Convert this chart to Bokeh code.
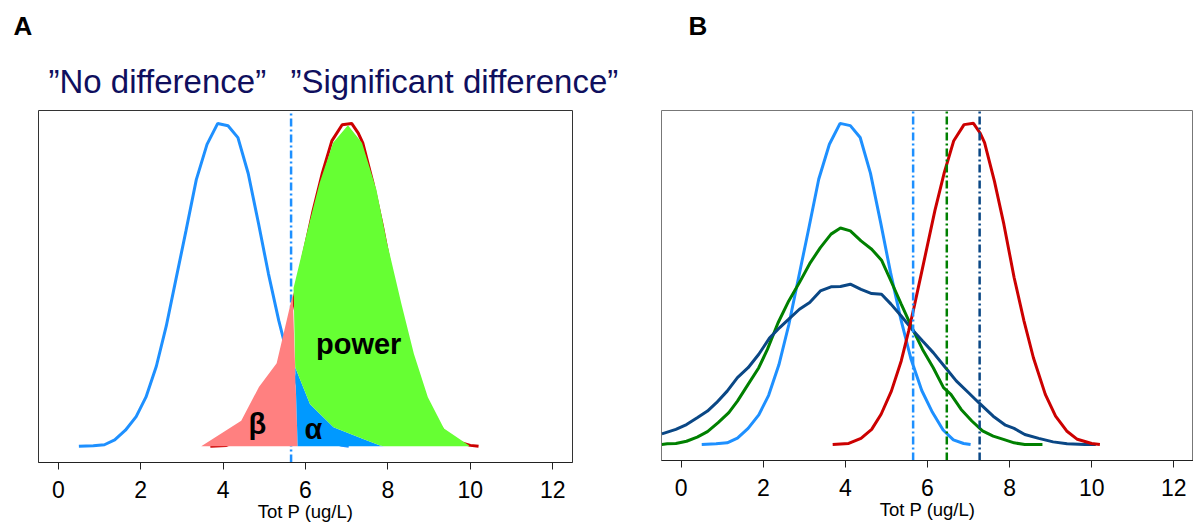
from bokeh.plotting import figure
from bokeh.layouts import row, column
from bokeh.models import FixedTicker, Range1d
from bokeh.core.properties import value
from bokeh.embed import file_html
from bokeh.resources import INLINE

FONT = "Liberation Sans"

# ---------------- data ----------------
ticks = [0, 2, 4, 6, 8, 10, 12]
x_label = "Tot P (ug/L)"
panel_labels = ["A", "B"]
head_texts = ["\u201dNo difference\u201d", "\u201dSignificant difference\u201d"]
area_labels = ["power", "\u03b2", "\u03b1"]

# null distribution (light blue)
blue_x = [0.5, 0.85, 1.12, 1.37, 1.63, 1.89, 2.13, 2.38, 2.62, 2.86, 3.1, 3.35, 3.61, 3.87,
          4.12, 4.36, 4.61, 4.86, 5.1, 5.35, 5.6, 5.86, 6.12, 6.38, 6.63, 6.88, 7.05]
blue_y = [0.0, 0.002, 0.005, 0.02, 0.05, 0.092, 0.153, 0.248, 0.372, 0.52, 0.668, 0.826, 0.935, 1.0,
          0.993, 0.956, 0.845, 0.69, 0.535, 0.39, 0.265, 0.168, 0.1, 0.045, 0.014, 0.003, 0.0]

# alternative distribution (red)
red_x = [3.69, 4.08, 4.38, 4.64, 4.87, 5.12, 5.36, 5.54, 5.67, 5.88, 6.18, 6.41, 6.64, 6.89,
         7.12, 7.28, 7.39, 7.63, 7.86, 8.11, 8.35, 8.58, 8.87, 9.12, 9.39, 9.65, 10.0, 10.2]
red_y = [0.0, 0.003, 0.019, 0.047, 0.094, 0.166, 0.26, 0.353, 0.426, 0.55, 0.728, 0.847, 0.946, 0.996,
         1.0, 0.97, 0.94, 0.82, 0.686, 0.52, 0.385, 0.27, 0.156, 0.088, 0.042, 0.016, 0.003, 0.0]

# beta area (pink)
beta_x = [3.47, 4.44, 4.87, 5.3, 5.69, 5.81]
beta_y = [0.0, 0.079, 0.184, 0.257, 0.47, 0.0]

# alpha area (blue) upper edge
alpha_x = [5.75, 6.11, 6.68, 7.4, 7.81, 7.9]
alpha_y = [0.245, 0.13, 0.059, 0.023, 0.003, 0.0]

# power area (green) upper edge
power_x = [5.71, 6.03, 6.34, 6.67, 7.03, 7.37, 7.72, 7.98, 8.33, 8.63, 8.97, 9.36, 9.97, 9.97]
power_y = [0.49, 0.66, 0.815, 0.94, 0.994, 0.94, 0.795, 0.63, 0.44, 0.287, 0.152, 0.055, 0.003, 0.0]

# panel B: wider null distributions
green_x = [-0.47, -0.34, -0.13, 0.13, 0.39, 0.64, 0.9, 1.16, 1.37, 1.63, 1.89, 2.1, 2.36, 2.62, 2.88,
           3.13, 3.39, 3.65, 3.88, 4.12, 4.38, 4.64, 4.88, 5.11, 5.36, 5.62, 5.88, 6.14, 6.39, 6.57,
           6.82, 7.08, 7.34, 7.6, 7.85, 8.11, 8.37, 8.8]
green_y = [0.0, 0.002, 0.003, 0.01, 0.023, 0.04, 0.068, 0.099, 0.135, 0.187, 0.239, 0.296, 0.379, 0.447,
           0.504, 0.563, 0.613, 0.655, 0.674, 0.665, 0.634, 0.608, 0.574, 0.509, 0.437, 0.364, 0.296,
           0.239, 0.177, 0.156, 0.109, 0.073, 0.042, 0.026, 0.016, 0.005, 0.0, 0.0]

navy_x = [-0.47, -0.13, 0.13, 0.39, 0.64, 0.86, 1.12, 1.37, 1.63, 1.89, 2.15, 2.4, 2.62, 2.88, 3.13,
          3.39, 3.65, 3.88, 4.12, 4.38, 4.64, 4.88, 5.11, 5.36, 5.62, 5.88, 6.14, 6.44, 6.7, 7.0,
          7.25, 7.6, 7.9, 8.11, 8.37, 8.71, 9.06, 9.4, 9.83, 10.1]
navy_y = [0.033, 0.047, 0.062, 0.083, 0.104, 0.13, 0.166, 0.208, 0.239, 0.281, 0.331, 0.364, 0.39, 0.421,
          0.442, 0.478, 0.491, 0.492, 0.499, 0.483, 0.47, 0.468, 0.437, 0.4, 0.359, 0.322, 0.286,
          0.239, 0.198, 0.161, 0.13, 0.088, 0.06, 0.05, 0.031, 0.019, 0.008, 0.002, 0.0, 0.0]

thresholds = [5.65, 6.47, 7.27]

C_BLUE = "#1E90FF"
C_RED = "#CC0000"
C_GREEN = "#008000"
C_NAVY = "#0A4785"
C_PINK = "#FF8080"
C_ALPHA = "#0099FF"
C_POWER = "#66FF33"
C_TITLE = "#0F0F5E"

XR = (-0.48, 12.48)
YR = (-0.05, 1.04)
W, H = 1193, 523
HEAD_H = 108


def base_fig(frame_w, frame_h, left, right, top, outline):
    p = figure(frame_width=frame_w, frame_height=frame_h,
               min_border_left=left, min_border_right=right, min_border_top=top,
               min_border_bottom=H - HEAD_H - top - frame_h,
               x_range=Range1d(*XR), y_range=Range1d(*YR),
               y_axis_location=None, output_backend="svg", toolbar_location=None)
    p.xgrid.visible = False
    p.ygrid.visible = False
    p.outline_line_color = outline
    p.outline_line_width = 1
    p.background_fill_color = "white"
    p.border_fill_color = "white"
    ax = p.xaxis[0]
    ax.ticker = FixedTicker(ticks=ticks)
    ax.minor_tick_line_color = None
    ax.major_tick_in = 0
    ax.major_tick_out = 7
    ax.major_tick_line_color = "#222222"
    ax.axis_line_color = "#222222"
    ax.major_label_text_font = FONT
    ax.major_label_text_font_size = "23px"
    ax.major_label_text_color = "black"
    ax.major_label_standoff = 11
    ax.axis_label = x_label
    ax.axis_label_text_font = FONT
    ax.axis_label_text_font_size = "18.5px"
    ax.axis_label_text_font_style = "normal"
    ax.axis_label_text_color = "black"
    ax.axis_label_standoff = 0
    return p


# ---------------- header (panel letters and caption) ----------------
head = figure(width=W, height=HEAD_H, x_range=Range1d(0, W), y_range=Range1d(HEAD_H, 0),
              x_axis_location=None, y_axis_location=None, min_border=0,
              output_backend="svg", toolbar_location=None)
head.xgrid.visible = False
head.ygrid.visible = False
head.outline_line_color = None
head.background_fill_color = "white"
head.border_fill_color = "white"
head.text(x=[13, 688], y=[25, 25], text=panel_labels, text_font=value(FONT), text_font_size="26px",
          text_font_style="bold", text_align="left", text_baseline="alphabetic", text_color="black")
head.text(x=[48, 290], y=[81, 81], text=head_texts, text_font=value(FONT), text_font_size="33px",
          text_align="left", text_baseline="alphabetic", text_color=C_TITLE)

# ---------------- panel A ----------------
pA = base_fig(534, 352, 38, 48, 0, "#333333")
pA.line(blue_x, blue_y, line_color=C_BLUE, line_width=3)
pA.line([thresholds[0], thresholds[0]], [YR[0], YR[1]], line_color=C_BLUE, line_width=2.5,
        line_dash="8 3 2 3")
pA.line(red_x, red_y, line_color=C_RED, line_width=3)
pA.patch(beta_x, beta_y, fill_color=C_PINK, line_color=None)
pA.patch(alpha_x + [beta_x[-1]], alpha_y + [0.0], fill_color=C_ALPHA, line_color=None)
pA.patch(power_x + alpha_x[::-1], power_y + alpha_y[::-1], fill_color=C_POWER, line_color=None)

pA.text(x=[7.29], y=[0.317], text=[area_labels[0]], text_font=value(FONT), text_font_size="29px",
        text_font_style="bold", text_align="center", text_baseline="alphabetic", text_color="black")
pA.text(x=[4.83, 6.19], y=[0.068, 0.054], text=area_labels[1:], text_font=value(FONT),
        text_font_size="29px", text_font_style="bold", text_align="center",
        text_baseline="alphabetic", text_color="black")

# ---------------- panel B ----------------
pB = base_fig(532, 350, 41, 0, 2, "#777777")
pB.line(blue_x, blue_y, line_color=C_BLUE, line_width=3)
pB.line(green_x, green_y, line_color=C_GREEN, line_width=3)
pB.line(navy_x, navy_y, line_color=C_NAVY, line_width=3)
pB.line(red_x, red_y, line_color=C_RED, line_width=3)
for t, c in zip(thresholds, [C_BLUE, C_GREEN, C_NAVY]):
    pB.line([t, t], [YR[0], YR[1]], line_color=c, line_width=2.5, line_dash="8 3 2 3")

layout = column(head, row(pA, pB, spacing=0), spacing=0)
open("out.html", "w").write(file_html(layout, INLINE))
